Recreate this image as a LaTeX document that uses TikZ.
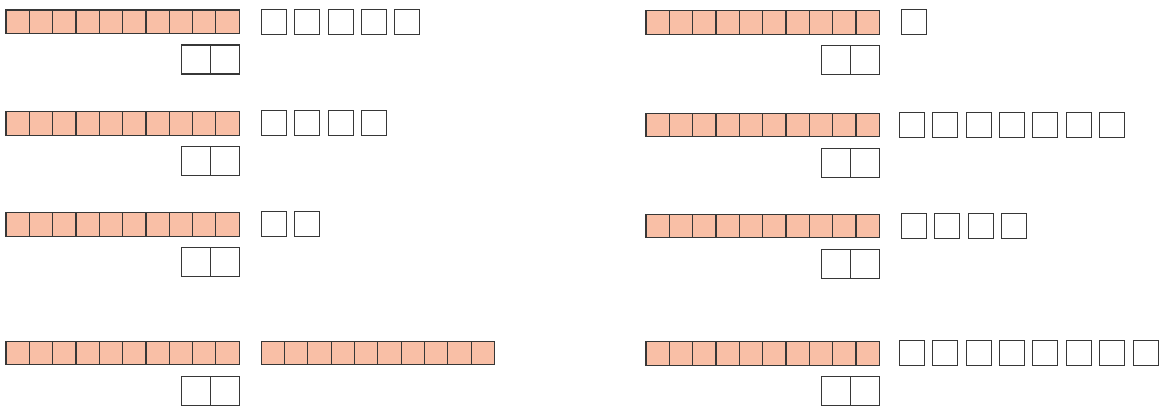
\documentclass[tikz,border=0pt]{standalone}
\usepackage{xcolor}
\usepackage{tikz}
\usetikzlibrary{positioning}

\definecolor{cellfill}{RGB}{249,191,166}
\definecolor{cellline}{RGB}{55,55,55}

\begin{document}
\begin{tikzpicture}[x=0.02cm, y=-0.02cm]
			\tikzset{
				cell/.style={draw=cellline, fill=cellfill, line width=0.6pt, minimum width=0.4667cm, minimum height=0.4667cm, inner sep=0pt, outer sep=0pt},
				slot/.style={draw=cellline, fill=white, line width=0.6pt, minimum size=0.5cm, inner sep=0pt, outer sep=0pt},
				pair/.style={draw=cellline, fill=white, line width=0.6pt, minimum width=0.576cm, minimum height=0.58cm, inner sep=0pt, outer sep=0pt},
			}
			
			% Canvas
			\useasboundingbox (0,0) rectangle (1166,408);
			
			% Full bars of ten cells with the pair below (panel/x/y)
			\foreach \p/\x/\y in {1/6/10, 2/6/111.7, 3/6/212.7, 4/6/341.3, 5/646/10.7, 6/646/113.3, 7/646/214.3, 8/646/341.7} {
				\foreach \i in {1,...,10} {
					\node[cell] (B\p c\i) at (\x+23.33*\i-11.67, \y+11.67) {};
				}
				\node[pair, anchor=north east] (B\p p2) at (\x+233.3, \y+35) {};
				\node[pair, left=0pt of B\p p2] (B\p p1) {};
			}
			
			% Free slots next to the bars (panel/x/y/count/gap)
			\foreach \p/\x/\y/\n/\g in {1/6/10/5/22, 2/6/111.7/4/22, 3/6/212.7/2/22, 5/646/10.7/1/22, 6/646/113.3/7/20, 7/646/214.3/4/22, 8/646/341.7/8/20} {
				\foreach \i in {1,...,\n} {
					\node[slot] (S\p s\i) at (\x+233.3+\g+12.5+33.4*\i-33.4, \y+11.67) {};
				}
			}
			
			% Second full bar in panel 4
			\foreach \i in {1,...,10} {
				\node[cell] (B4 d\i) at (261.3+23.33*\i-11.67, 341.3+11.67) {};
			}
		\end{tikzpicture}
\end{document}
